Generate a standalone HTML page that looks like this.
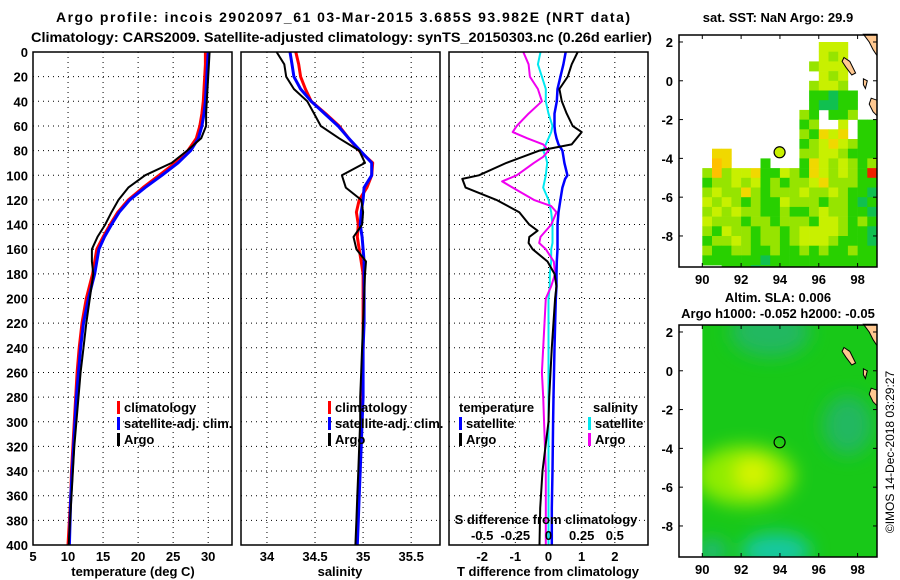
<!DOCTYPE html>
<html><head><meta charset="utf-8"><style>
html,body{margin:0;padding:0;background:#fff;}
svg{display:block;font-family:"Liberation Sans",sans-serif;font-weight:bold;}
</style></head><body>
<svg id="fig" width="900" height="580" viewBox="0 0 900 580" xmlns="http://www.w3.org/2000/svg">
<text x="56" y="22" font-size="14" textLength="574" lengthAdjust="spacing">Argo profile: incois 2902097_61 03-Mar-2015 3.685S 93.982E (NRT data)</text>
<text x="31" y="42" font-size="14" textLength="621" lengthAdjust="spacingAndGlyphs">Climatology: CARS2009. Satellite-adjusted climatology: synTS_20150303.nc (0.26d earlier)</text>
<text x="778" y="22" font-size="13" text-anchor="middle">sat. SST: NaN Argo: 29.9</text>
<text x="778" y="302" font-size="13" text-anchor="middle">Altim. SLA: 0.006</text>
<text x="778" y="318" font-size="13" text-anchor="middle">Argo h1000: -0.052 h2000: -0.05</text>
<text transform="translate(894,452) rotate(-90)" font-size="12" font-weight="normal" text-anchor="middle">©IMOS 14-Dec-2018 03:29:27</text>
<g id="plots"></g>
</svg>
<script>
// ---- data ----
const depths = [0,10,20,30,40,50,60,70,80,90,100,110,120,130,140,150,160,170,180,200,220,240,260,280,300,320,340,360,380,400];
const tempClim = [29.6,29.6,29.5,29.4,29.3,29.1,28.8,28.3,27.1,25.3,23.0,20.7,18.6,17.1,16.0,15.0,14.1,13.8,13.5,12.6,12.0,11.6,11.3,11.1,10.9,10.7,10.5,10.4,10.2,10.0];
const tempSat = [30.0,29.9,29.8,29.7,29.6,29.4,29.1,28.6,27.5,25.7,23.4,21.0,18.8,17.3,16.2,15.2,14.4,14.1,13.8,12.9,12.2,11.8,11.5,11.2,11.0,10.8,10.6,10.4,10.3,10.2];
const tempArgo = [30.2,30.1,30.0,29.9,29.8,29.7,29.7,29.0,27.0,24.8,21.0,18.6,17.2,16.2,15.3,14.2,13.4,13.4,13.6,13.1,12.6,12.2,11.8,11.5,11.2,10.9,10.7,10.5,10.3,10.1];
const salClim = [34.30,34.33,34.35,34.40,34.46,34.61,34.75,34.85,34.96,35.10,35.09,35.04,34.96,34.93,34.95,34.94,34.96,34.98,35.00,35.00,35.00,35.00,34.99,34.98,34.98,34.97,34.96,34.95,34.94,34.93];
const salSat = [34.24,34.26,34.28,34.35,34.46,34.60,34.74,34.85,34.97,35.09,35.09,35.01,35.00,34.98,34.97,34.99,35.00,35.01,35.01,35.01,35.01,35.00,35.00,35.00,34.99,34.98,34.97,34.96,34.95,34.94];
const salArgo = [34.10,34.18,34.20,34.28,34.42,34.49,34.56,34.75,34.96,35.02,34.78,34.82,34.98,35.00,34.99,34.90,34.93,35.03,35.02,35.01,35.00,34.99,34.98,34.97,34.97,34.96,34.95,34.94,34.93,34.92];
const dTdepths = [0,10,20,30,40,50,60,65,70,75,80,90,100,103,110,120,130,140,145,150,155,160,170,180,190,200,240,280,300,340,370,400];
const dTArgo = [0.88,0.7,0.58,0.33,0.4,0.55,0.73,1.0,0.85,0.7,-0.27,-1.27,-2.1,-2.6,-2.5,-1.57,-0.88,-0.58,-0.33,-0.58,-0.6,-0.48,-0.03,0.18,0.24,0.2,0.1,0.02,0.0,-0.18,-0.25,-0.27];
const dTSat = [0.52,0.45,0.36,0.27,0.25,0.18,0.18,0.2,0.24,0.3,0.42,0.48,0.57,0.5,0.42,0.36,0.3,0.27,0.27,0.27,0.27,0.27,0.25,0.24,0.24,0.22,0.18,0.15,0.14,0.12,0.1,0.1];
const dSdepths = [0,10,20,30,40,50,60,65,70,75,80,85,90,100,105,110,120,125,130,140,150,155,160,170,180,190,200,260,280,340,400];
const dSArgo = [-0.19,-0.15,-0.14,-0.08,-0.05,-0.15,-0.24,-0.27,-0.16,-0.04,0.0,-0.04,-0.11,-0.24,-0.35,-0.27,-0.11,0.02,0.06,0.02,-0.06,-0.07,-0.02,0.04,0.05,0.02,-0.02,-0.05,-0.04,-0.02,-0.02];
const dSSat = [-0.06,-0.08,-0.05,-0.02,-0.02,0.0,0.03,0.02,0.0,-0.02,-0.04,-0.02,-0.01,-0.02,-0.03,-0.04,0.0,0.01,0.02,0.03,0.03,0.03,0.02,0.02,0.01,0.01,0.0,0.0,0.0,0.0,0.0];
const depthTicks = [0,20,40,60,80,100,120,140,160,180,200,220,240,260,280,300,320,340,360,380,400];
const tempTicks = [5,10,15,20,25,30];
const salTicks = [34,34.5,35,35.5];
const salTickLabels = ["34","34.5","35","35.5"];
const dTTicks = [-2,-1,0,1,2];
const dSTicks = [-0.5,-0.25,0,0.25,0.5];
const dSTickLabels = ["-0.5","-0.25","0","0.25","0.5"];
const lonTicks = [90,92,94,96,98];
const latTicks = [2,0,-2,-4,-6,-8];
const argoLon = 93.982, argoLat = -3.685;
const sstRows = [
"............yyy...",
"............yly...",
"...........lyyy...",
"............yly...",
"...........lyyl...",
"...........ggdgg..",
"...........gddgg..",
"..........lg.ggl..",
"..........gl..y.gg",
"..........lgoyo.gg",
"..........glyoylgg",
".oo.......llyylggg",
".Oo...g...goylylgl",
"lOlyyoggylgoylylgr",
"gllylyglgllyolllgg",
"lyllolglllyllylggd",
"ylylglggylllgllgdg",
"lylyllgglgglyllggd",
"ylllgllglllgyylglg",
"lgyllgllglyyyylggd",
"gllylgllglyyylgggd",
"lggllgglgglglgglgg",
"ggggggdggggggggggg",
"..gggdgggggggggggg"];
const sstColors = {y:"#c8f000",l:"#96e400",g:"#28d000",d:"#10c050",o:"#f0d800",O:"#ffc000",r:"#f02000"};

const NS="http://www.w3.org/2000/svg";
const root=document.getElementById('plots');
function mk(tag,attrs,parent){const e=document.createElementNS(NS,tag);for(const k in attrs)e.setAttribute(k,attrs[k]);(parent||root).appendChild(e);return e;}
function txt(s,x,y,attrs,parent){const e=mk('text',Object.assign({x:x,y:y,'font-size':13},attrs||{}),parent);e.textContent=s;return e;}

const top0=52, bot0=545;
const yD = d => top0 + (bot0-top0)*d/400;

function panel(name,x0,x1,xmin,xmax){
  const g=mk('g',{});
  
  
  const sx=v=>x0+(x1-x0)*(v-xmin)/(xmax-xmin);
  return {g,sx,x0,x1};
}
function frameAndGrid(p,xticks,xlabels,showY){
  depthTicks.forEach(d=>{
    const l=mk('line',{x1:p.x0,x2:p.x1,y1:yD(d),y2:yD(d),stroke:'#000','stroke-width':1,'stroke-dasharray':'1,4'},p.g);
    
    
    if(showY){const t=txt(String(d),28,yD(d)+5,{'text-anchor':'end'},p.g);
      
      }
  });
  xticks.forEach((v,i)=>{
    const x=p.sx(v);
    const l=mk('line',{x1:x,x2:x,y1:top0,y2:bot0,stroke:'#000','stroke-width':1,'stroke-dasharray':'1,4'},p.g);
    
    
    const t=txt(xlabels[i],x,561,{'text-anchor':'middle'},p.g);
    
    
  });
}
function frame(p){
  const r=mk('rect',{x:p.x0,y:top0,width:p.x1-p.x0,height:bot0-top0,fill:'none',stroke:'#000','stroke-width':1.5},p.g);
  
  
}
function line(p,xs,ds,color,w,name){
  const pts=xs.map((v,i)=>p.sx(v).toFixed(1)+','+yD(ds[i]).toFixed(1)).join(' ');
  const l=mk('polyline',{points:pts,fill:'none',stroke:color,'stroke-width':w,'stroke-linejoin':'round'},p.g);
  
  
}
function legend(p,x,y,items,nameBase){
  items.forEach((it,i)=>{
    const yy=y+i*16;
    if(it.c){const r=mk('rect',{x:x,y:yy-11,width:3,height:13,fill:it.c},p.g);
      
      }
    const t=txt(it.t,x+(it.c?7:0),yy,{},p.g);
    
    
  });
}

const p1=panel('temperature-panel',33,232,5,33.4);
frameAndGrid(p1,tempTicks,tempTicks.map(String),true);
line(p1,tempClim,depths,'#ff0000',3,'climatology-temperature-line');
line(p1,tempSat,depths,'#0000ff',3,'satellite-adj-temperature-line');
line(p1,tempArgo,depths,'#000000',2,'argo-temperature-line');
frame(p1);
legend(p1,117,412,[{c:'#f00',t:'climatology'},{c:'#00f',t:'satellite-adj. clim.'},{c:'#000',t:'Argo'}],'temperature-legend');
const t1=txt('temperature (deg C)',133,576,{'text-anchor':'middle'},p1.g);



const p2=panel('salinity-panel',241,440,33.73,35.8);
frameAndGrid(p2,salTicks,salTickLabels,false);
line(p2,salClim,depths,'#ff0000',3,'climatology-salinity-line');
line(p2,salSat,depths,'#0000ff',3,'satellite-adj-salinity-line');
line(p2,salArgo,depths,'#000000',2,'argo-salinity-line');
frame(p2);
legend(p2,328,412,[{c:'#f00',t:'climatology'},{c:'#00f',t:'satellite-adj. clim.'},{c:'#000',t:'Argo'}],'salinity-legend');
const t2=txt('salinity',340,576,{'text-anchor':'middle'},p2.g);



const p3=panel('difference-panel',449,648,-3,3);
frameAndGrid(p3,dTTicks,dTTicks.map(String),false);
const sxS=v=>p3.sx(v*4);
line(p3,dSSat.map(v=>v*4),dSdepths,'#00e8f0',2,'salinity-satellite-diff-line');
line(p3,dSArgo.map(v=>v*4),dSdepths,'#f000f0',2,'salinity-argo-diff-line');
line(p3,dTSat,dTdepths,'#0000ff',2.5,'temperature-satellite-diff-line');
line(p3,dTArgo,dTdepths,'#000000',2,'temperature-argo-diff-line');
frame(p3);
legend(p3,459,412,[{t:'temperature'},{c:'#00f',t:'satellite'},{c:'#000',t:'Argo'}],'tdiff-legend');
legend(p3,588,412,[{t:''},{c:'#00e8f0',t:'satellite'},{c:'#f000f0',t:'Argo'}],'sdiff-legend');
const sal3=txt('salinity',593,412,{},p3.g);


const st=txt('S difference from climatology',546,524,{'text-anchor':'middle'},p3.g);


dSTicks.forEach((v,i)=>{const t=txt(dSTickLabels[i],sxS(v),540,{'text-anchor':'middle'},p3.g);
  
  });
const t3=txt('T difference from climatology',548,576,{'text-anchor':'middle'},p3.g);



const mx0=679,mx1=877,lonMin=88.8,lonMax=99.0,latMax=2.36,latMin=-9.6;
function mapAxes(name,my0,my1){
  const g=mk('g',{});
  
  
  const X=lon=>mx0+(mx1-mx0)*(lon-lonMin)/(lonMax-lonMin);
  const Y=lat=>my0+(my1-my0)*(latMax-lat)/(latMax-latMin);
  return {g,X,Y,my0,my1};
}
function mapFrame(m){
  lonTicks.forEach(v=>{
    mk('line',{x1:m.X(v),x2:m.X(v),y1:m.my0,y2:m.my0+4,stroke:'#000'},m.g);
    mk('line',{x1:m.X(v),x2:m.X(v),y1:m.my1,y2:m.my1-4,stroke:'#000'},m.g);
    const t=txt(String(v),m.X(v),m.my1+17,{'text-anchor':'middle'},m.g);
    
    
  });
  latTicks.forEach(v=>{
    mk('line',{x1:mx0,x2:mx0+4,y1:m.Y(v),y2:m.Y(v),stroke:'#000'},m.g);
    mk('line',{x1:mx1,x2:mx1-4,y1:m.Y(v),y2:m.Y(v),stroke:'#000'},m.g);
    const t=txt(String(v),673,m.Y(v)+5,{'text-anchor':'end'},m.g);
    
    
  });
  const r=mk('rect',{x:mx0,y:m.my0,width:mx1-mx0,height:m.my1-m.my0,fill:'none',stroke:'#000','stroke-width':1.5},m.g);
  
  
}
function coast(m){
  const polys=[
    [[98.3,2.4],[99.0,2.4],[99.0,1.3],[98.8,1.6],[98.6,2.0]],
    [[97.3,1.2],[97.6,1.0],[97.9,0.4],[97.7,0.3],[97.4,0.7],[97.2,1.0]],
    [[98.3,0.1],[98.5,0.0],[98.4,-0.4],[98.3,-0.2]],
    [[98.7,-0.9],[99.0,-1.0],[99.0,-1.8],[98.8,-1.6],[98.6,-1.2]]
  ];
  polys.forEach(pl=>{
    const p=mk('polygon',{points:pl.map(q=>m.X(q[0]).toFixed(1)+','+m.Y(q[1]).toFixed(1)).join(' '),fill:'#ffc890',stroke:'#000','stroke-width':1},m.g);
    
    
  });
}
const m1=mapAxes('sst-map',35,267);
sstRows.forEach((row,ri)=>{
  for(let ci=0;ci<row.length;ci++){
    const c=row[ci]; if(c==='.') continue;
    const lon=90+ci*0.5, lat=2-ri*0.5;
    const x=m1.X(lon), y=m1.Y(lat);
    const r=mk('rect',{x:x.toFixed(1),y:y.toFixed(1),width:(m1.X(lon+0.5)-x+0.3).toFixed(1),height:(Math.min(m1.Y(lat-0.5),267)-y+0.3).toFixed(1),fill:sstColors[c]},m1.g);
    
    
  }
});
coast(m1);
const c1=mk('circle',{cx:m1.X(argoLon),cy:m1.Y(argoLat),r:5.5,fill:'#c8f000',stroke:'#000','stroke-width':1.2},m1.g);


mapFrame(m1);

const m2=mapAxes('sla-map',325,557);
const defs=mk('defs',{},m2.g);
const cp=mk('clipPath',{id:'slaclip'},defs);
mk('rect',{x:m2.X(90),y:325,width:mx1-m2.X(90),height:232},cp);
const f=mk('filter',{id:'blur',x:'-50%',y:'-50%',width:'200%',height:'200%'},defs);
mk('feGaussianBlur',{stdDeviation:9},f);
const sg=mk('g',{'clip-path':'url(#slaclip)'},m2.g);


mk('rect',{x:m2.X(90),y:325,width:mx1-m2.X(90),height:232,fill:'#18c818'},sg);
const bg=mk('g',{filter:'url(#blur)'},sg);
mk('ellipse',{cx:m2.X(93.5),cy:m2.Y(2),rx:40,ry:25,fill:'#20b860'},bg);
mk('ellipse',{cx:m2.X(97.5),cy:m2.Y(-2.8),rx:25,ry:30,fill:'#20b860'},bg);
mk('ellipse',{cx:m2.X(93.8),cy:m2.Y(-9.3),rx:35,ry:18,fill:'#18c8a0'},bg);
mk('ellipse',{cx:m2.X(90.5),cy:m2.Y(-9.3),rx:15,ry:12,fill:'#20b880'},bg);
mk('ellipse',{cx:m2.X(92.2),cy:m2.Y(-5.4),rx:50,ry:30,fill:'#90ec00'},bg);
mk('ellipse',{cx:m2.X(92.6),cy:m2.Y(-5.3),rx:18,ry:16,fill:'#d8f400'},bg);
coast(m2);
const c2=mk('circle',{cx:m2.X(argoLon),cy:m2.Y(argoLat),r:5.5,fill:'none',stroke:'#000','stroke-width':1.2},m2.g);


mapFrame(m2);
</script>
</body></html>
